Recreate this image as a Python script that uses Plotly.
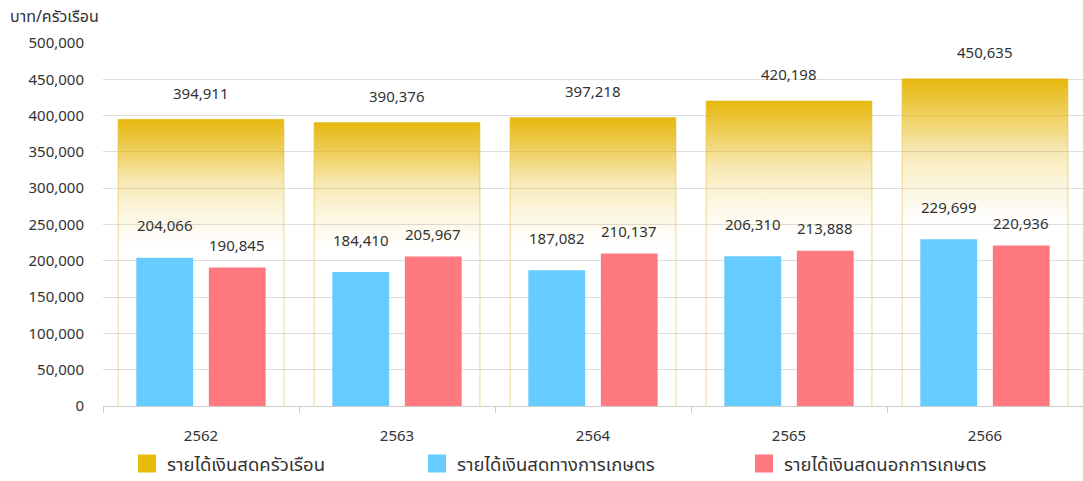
import plotly.graph_objects as go

years = ["2562", "2563", "2564", "2565", "2566"]
total_income = [394911, 390376, 397218, 420198, 450635]
agri_income = [204066, 184410, 187082, 206310, 229699]
nonagri_income = [190845, 205967, 210137, 213888, 220936]

name_total = "รายได้เงินสดครัวเรือน"
name_agri = "รายได้เงินสดทางการเกษตร"
name_nonagri = "รายได้เงินสดนอกการเกษตร"
y_title = "บาท/ครัวเรือน"

FONT = "Tahoma, 'Noto Sans Thai', 'Noto Sans', 'DejaVu Sans', sans-serif"
BLUE = "#66CBFF"
RED = "#FF7A80"

W, H = 1083, 481
ML, MR, MT, MB = 103, 0, 43, 75
PW = W - ML - MR
PH = H - MT - MB

fig = go.Figure()

gold_half = 0.423
grad = [
    [0.0, "rgba(230,184,14,0)"],
    [0.56, "rgba(230,184,14,0)"],
    [0.68, "rgba(230,184,14,0.14)"],
    [0.785, "rgba(230,184,14,0.32)"],
    [0.886, "rgba(230,184,14,0.66)"],
    [1.0, "rgba(230,184,14,1)"],
]
for i, v in enumerate(total_income):
    x0, x1 = i - gold_half, i + gold_half
    fig.add_trace(go.Scatter(
        x=[x0, x0, x1, x1], y=[0, v, v, 0],
        mode="lines", fill="toself",
        line=dict(color="rgba(225,185,40,0.55)", width=1),
        fillgradient=dict(type="vertical", colorscale=grad, start=0, stop=v),
        showlegend=False, hoverinfo="skip",
    ))

off = 0.185
bw = 0.29
fig.add_trace(go.Bar(
    x=[i - off for i in range(len(years))], y=agri_income, width=bw,
    marker=dict(color=BLUE, line=dict(width=0)), showlegend=False, name=name_agri,
))
fig.add_trace(go.Bar(
    x=[i + off for i in range(len(years))], y=nonagri_income, width=bw,
    marker=dict(color=RED, line=dict(width=0)), showlegend=False, name=name_nonagri,
))

# legend entries
for nm, col, lg in [(name_total, "#E8BC0C", "legend"), (name_agri, BLUE, "legend2"), (name_nonagri, RED, "legend3")]:
    fig.add_trace(go.Scatter(
        x=[None], y=[None], mode="markers", name=nm, legend=lg,
        marker=dict(symbol="square", size=16, color=col, line=dict(color=col, width=2)),
    ))

ann = []
txt_font = dict(family=FONT, size=15, color="#333333")
for i in range(len(years)):
    ann.append(dict(x=i, y=total_income[i], text=f"{total_income[i]:,}", xref="x", yref="y",
                    showarrow=False, yshift=25, font=txt_font))
    ann.append(dict(x=i - off, y=agri_income[i], text=f"{agri_income[i]:,}", xref="x", yref="y",
                    showarrow=False, yshift=31, font=txt_font))
    ann.append(dict(x=i + off, y=nonagri_income[i], text=f"{nonagri_income[i]:,}", xref="x", yref="y",
                    showarrow=False, yshift=21, font=txt_font))
ann.append(dict(x=(8 - ML) / PW, y=(H - MB - 17) / PH, xref="paper", yref="paper",
                xanchor="left", yanchor="middle", showarrow=False, text=y_title,
                font=dict(family=FONT, size=16, color="#333333")))

leg_common = dict(orientation="h", yanchor="middle", y=(H - MB - 464) / PH, xanchor="left",
                  entrywidth=260, entrywidthmode="pixels",
                  font=dict(family=FONT, size=18.5, color="#333333"), bgcolor="rgba(0,0,0,0)")

fig.update_layout(
    width=W, height=H,
    margin=dict(l=ML, r=MR, t=MT, b=MB, autoexpand=False),
    paper_bgcolor="white", plot_bgcolor="white",
    barmode="overlay",
    font=dict(family=FONT, size=15, color="#333333"),
    annotations=ann,
    legend=dict(x=(127 - ML) / PW, **leg_common),
    legend2=dict(x=(417 - ML) / PW, **leg_common),
    legend3=dict(x=(744 - ML) / PW, **leg_common),
    xaxis=dict(
        range=[-0.5, 4.5], tickvals=list(range(len(years))), ticktext=years,
        ticks="", showgrid=False, zeroline=False,
        showline=True, linecolor="#cccccc", linewidth=1,
        ticklabelstandoff=16,
        tickfont=dict(family=FONT, size=15, color="#333333"),
        minor=dict(tickvals=[k - 0.5 for k in range(len(years) + 1)], ticks="outside",
                   ticklen=6, tickcolor="#cccccc", showgrid=False),
    ),
    yaxis=dict(
        range=[0, 500000], dtick=50000, tickformat=",",
        showgrid=True, gridcolor="#dddddd", gridwidth=1,
        zeroline=False, showline=False, ticks="",
        ticklabelstandoff=18,
        tickfont=dict(family=FONT, size=15, color="#333333"),
    ),
)

fig.write_html("out.html", config={"displayModeBar": False},
               post_script="document.body.style.margin='0';document.body.style.overflow='hidden';")
